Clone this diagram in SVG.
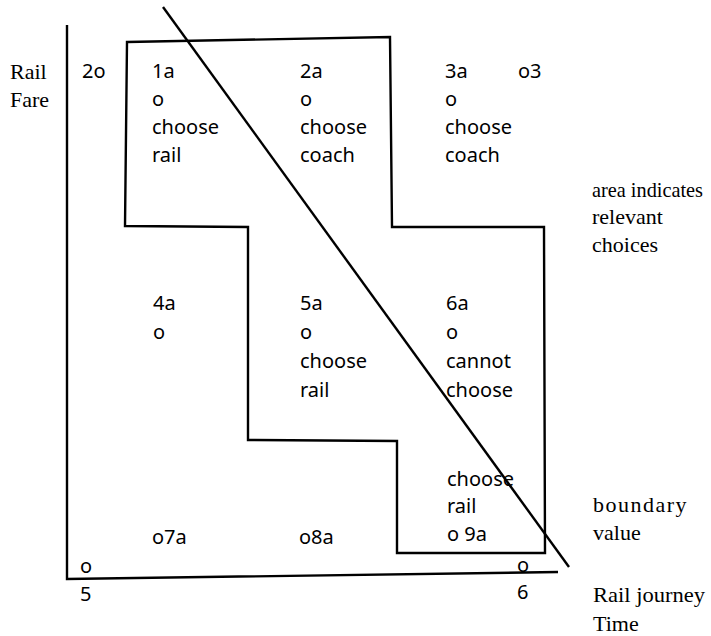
<svg xmlns="http://www.w3.org/2000/svg" width="711" height="636" viewBox="0 0 711 636">
<style>
.ln{fill:none;stroke:#000;stroke-width:2.4;stroke-linejoin:miter}
.c{font-family:"Noto Sans","DejaVu Sans",sans-serif;font-size:20px;fill:#000}
.s{font-family:"Liberation Serif","Times New Roman",serif;font-size:22px;fill:#000}
</style>
<rect width="711" height="636" fill="#fff"/>
<g id="axes">
<path class="ln" d="M67,25 L67,579 L558,572"/>
</g>
<g id="region">
<path class="ln" d="M127,42 L390,37 L392,227 L544,227 L545,553 L397,553 L397,441 L248,440 L248,227 L125,226 Z"/>
</g>
<g id="boundary-line">
<path class="ln" d="M163,7 L569,567" stroke-width="2"/>
</g>
<g id="y-label"><text class="s" x="10" y="79" font-size="24">Rail</text><text class="s" x="10" y="107" font-size="24">Fare</text></g>
<g id="p2o"><text class="c" x="82" y="78">2o</text></g>
<g id="cell1a"><text class="c" x="152" y="78">1a</text><text class="c" x="152" y="106">o</text><text class="c" x="152" y="134">choose</text><text class="c" x="152" y="162">rail</text></g>
<g id="cell2a"><text class="c" x="300" y="78">2a</text><text class="c" x="300" y="106">o</text><text class="c" x="300" y="134">choose</text><text class="c" x="300" y="162">coach</text></g>
<g id="cell3a"><text class="c" x="445" y="78">3a</text><text class="c" x="445" y="106">o</text><text class="c" x="445" y="134">choose</text><text class="c" x="445" y="162">coach</text></g>
<g id="p3"><text class="c" x="518" y="78">o3</text></g>
<g id="legend-area"><text class="s" x="592" y="197" textLength="111" lengthAdjust="spacingAndGlyphs">area indicates</text><text class="s" x="592" y="224">relevant</text><text class="s" x="592" y="252">choices</text></g>
<g id="cell4a"><text class="c" x="153" y="310">4a</text><text class="c" x="153" y="339">o</text></g>
<g id="cell5a"><text class="c" x="300" y="310">5a</text><text class="c" x="300" y="339">o</text><text class="c" x="300" y="368">choose</text><text class="c" x="300" y="397">rail</text></g>
<g id="cell6a"><text class="c" x="446" y="310">6a</text><text class="c" x="446" y="339">o</text><text class="c" x="446" y="368">cannot</text><text class="c" x="446" y="397">choose</text></g>
<g id="cell9a"><text class="c" x="447" y="486">choose</text><text class="c" x="447" y="513">rail</text><text class="c" x="447" y="541">o 9a</text></g>
<g id="cell7a"><text class="c" x="152" y="544">o7a</text></g>
<g id="cell8a"><text class="c" x="299" y="544">o8a</text></g>
<g id="legend-boundary"><text class="s" x="593" y="512" letter-spacing="1.5">boundary</text><text class="s" x="593" y="540">value</text></g>
<g id="p5"><text class="c" x="80" y="573">o</text><text class="c" x="80" y="601">5</text></g>
<g id="p6"><text class="c" x="517" y="572">o</text><text class="c" x="517" y="599">6</text></g>
<g id="x-label"><text class="s" x="593" y="602" textLength="112" lengthAdjust="spacingAndGlyphs">Rail journey</text><text class="s" x="593" y="631">Time</text></g>
</svg>
